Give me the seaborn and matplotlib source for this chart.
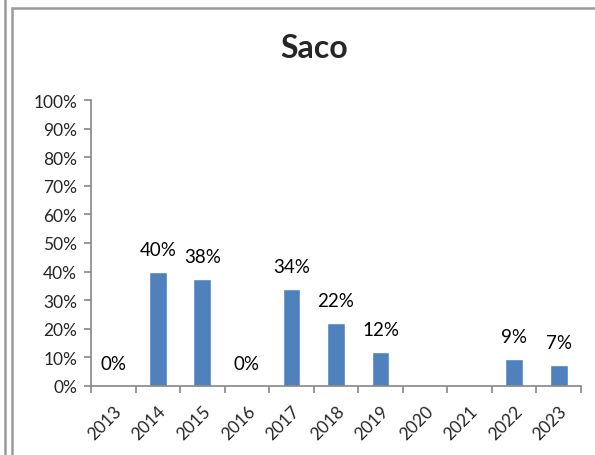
import numpy as np
import pandas as pd
import matplotlib
matplotlib.use("Agg")
import matplotlib.pyplot as plt
import seaborn as sns
from matplotlib.lines import Line2D
from matplotlib.patches import Rectangle

## Data
years = ["2013", "2014", "2015", "2016", "2017", "2018", "2019", "2020", "2021", "2022", "2023"]
values = [0, 40, 37.5, 0, 34, 22, 12, np.nan, np.nan, 9.4, 7.4]
y_ticks = [0, 10, 20, 30, 40, 50, 60, 70, 80, 90, 100]

df = pd.DataFrame({"year": years, "pct": values})

sns.set_style("white")
plt.rcParams["font.family"] = ["Lato", "DejaVu Sans"]

fig = plt.figure(figsize=(5.95, 4.56), dpi=100)
ax = fig.add_axes([91 / 595, 69 / 456, 490 / 595, 286 / 456])

sns.barplot(data=df.dropna(), x="year", y="pct", order=years, color="#4F81BD",
            width=0.4, errorbar=None, saturation=1, ax=ax)

# data labels
for i, v in enumerate(values):
    if np.isnan(v):
        continue
    ax.annotate(f"{v:.0f}%", (i, v), xytext=(0, 16), textcoords="offset points",
                ha="center", va="center", fontsize=13.5, color="black")

ax.set_xlim(-0.5, len(years) - 0.5)
ax.set_ylim(0, 100)
ax.set_yticks(y_ticks)
ax.set_yticklabels([f"{t}%" for t in y_ticks], fontsize=12.5)
ax.set_xticks(range(len(years)))
ax.set_xticklabels(years, rotation=45, ha="right", rotation_mode="anchor", fontsize=12.5)
ax.set_xticks(np.arange(-0.5, len(years)), minor=True)
ax.tick_params(axis="x", which="major", length=0, pad=12)
ax.tick_params(axis="x", which="minor", length=5, color="#868686", width=1.2, direction="out", bottom=True)
ax.tick_params(axis="y", length=5, color="#868686", width=1.2, direction="out", left=True, pad=5)
ax.set_xlabel("")
ax.set_ylabel("")

for s in ["top", "right"]:
    ax.spines[s].set_visible(False)
for s in ["left", "bottom"]:
    ax.spines[s].set_color("#868686")
    ax.spines[s].set_linewidth(1.2)

fig.text(314 / 595, 1 - 48 / 456, "Saco", ha="center", va="center",
         fontsize=23, fontweight="bold")

# outer frames
fig.add_artist(Line2D([5 / 595, 5 / 595], [0, 1], color="#9a9a9a", lw=1.8,
                      transform=fig.transFigure))
fig.add_artist(Rectangle((11.5 / 595, -0.1), 0.99, 1 - 8.5 / 456 + 0.1, fill=False,
                         edgecolor="#9a9a9a", lw=1.8, transform=fig.transFigure))

fig.savefig("out.png", dpi=100)
